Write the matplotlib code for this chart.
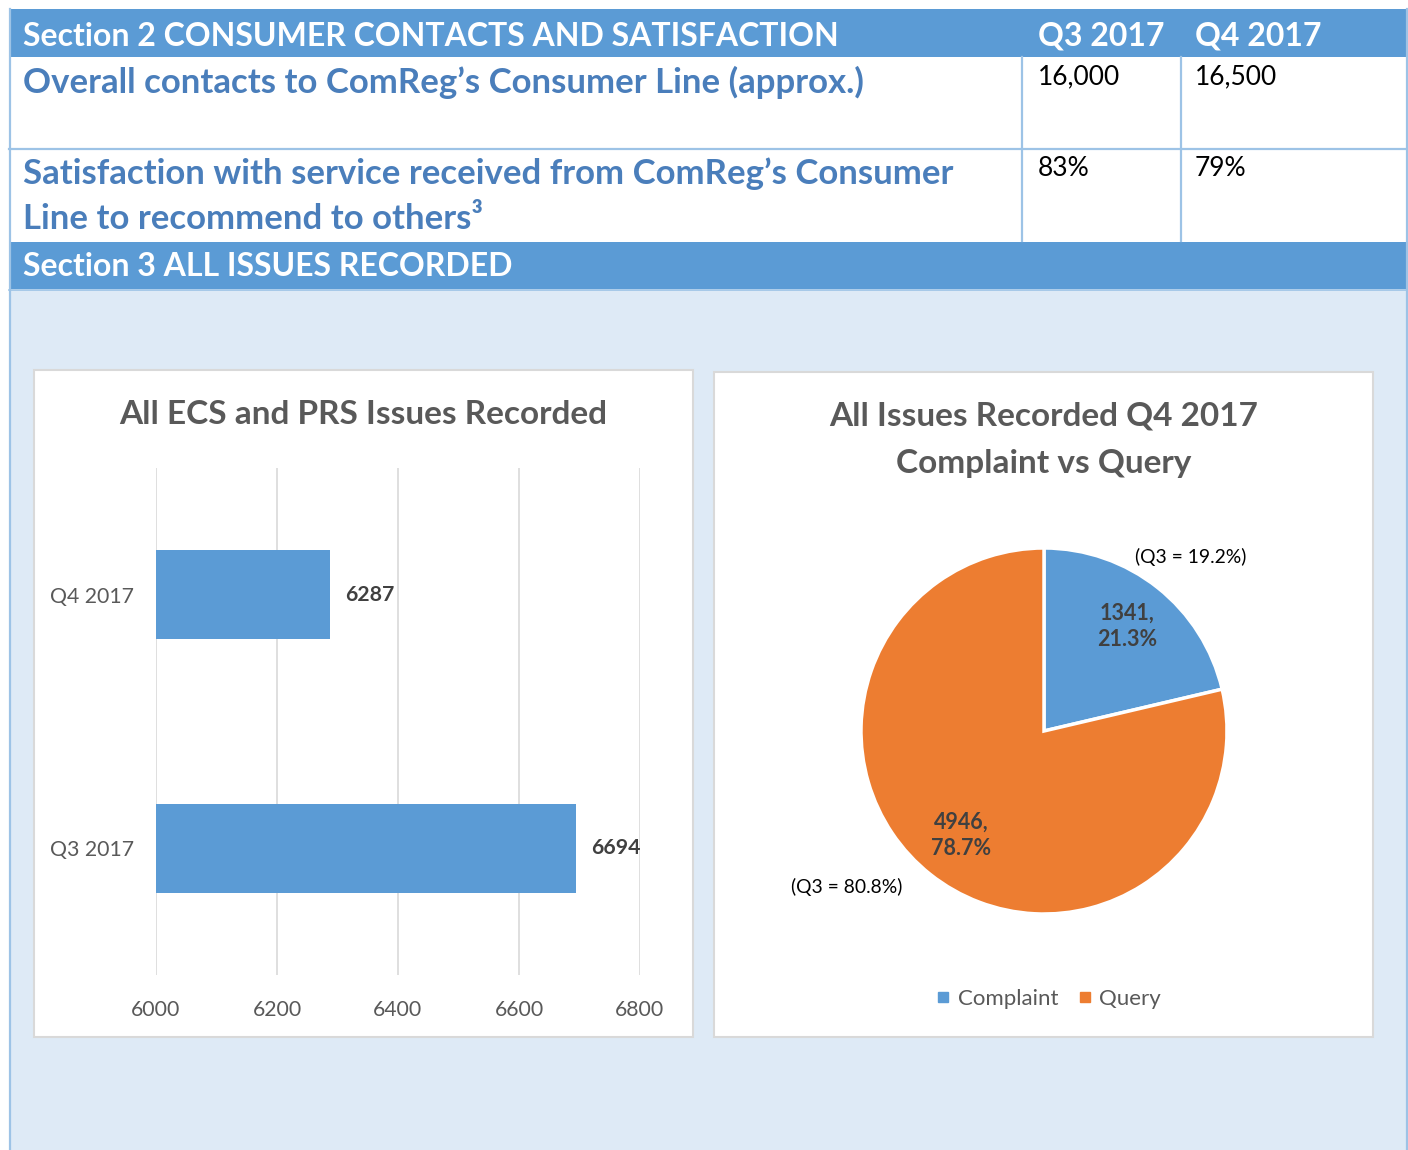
import matplotlib
matplotlib.use("Agg")
import matplotlib.pyplot as plt
from matplotlib.patches import Rectangle
from matplotlib.lines import Line2D
import numpy as np

plt.rcParams["font.family"] = ["Lato", "DejaVu Sans"]

# ----------------------------
# Data
# ----------------------------
period_cols = ["Q3 2017", "Q4 2017"]
contacts = ["16,000", "16,500"]
satisfaction = ["83%", "79%"]

bar_labels = ["Q3 2017", "Q4 2017"]
bar_values = [6694, 6287]
bar_ticks = [6000, 6200, 6400, 6600, 6800]

pie_labels = ["Complaint", "Query"]
pie_values = [1341, 4946]
pie_prev = ["(Q3 = 19.2%)", "(Q3 = 80.8%)"]

# ----------------------------
# Colours
# ----------------------------
HEAD_BLUE = "#5B9BD5"
ROW_BLUE = "#4A7EBB"
LINE_BLUE = "#9DC3E6"
FILL_BLUE = "#DEEAF6"
GREY_TXT = "#595959"
DARK_TXT = "#404040"
ORANGE = "#ED7D31"

W, H = 1408, 1150
fig = plt.figure(figsize=(W / 100, H / 100), dpi=100)

# background canvas in pixel units (y pointing down)
bg = fig.add_axes([0, 0, 1, 1])
bg.set_xlim(0, W)
bg.set_ylim(H, 0)
bg.axis("off")

# table section 2
bg.add_patch(Rectangle((9, 9), 1398, 48, color=HEAD_BLUE, lw=0))
bg.add_patch(Rectangle((9, 242), 1398, 47, color=HEAD_BLUE, lw=0))
bg.add_patch(Rectangle((9, 290), 1398, 860, color=FILL_BLUE, lw=0))
for x in (1022, 1181):
    bg.plot([x, x], [57, 241], color=LINE_BLUE, lw=1.6)
bg.plot([9, 1407], [149, 149], color=LINE_BLUE, lw=1.6)
bg.plot([9, 1407], [289.5, 289.5], color=LINE_BLUE, lw=1.2)
for x in (9.5, 1406.5):
    bg.plot([x, x], [9, H], color=LINE_BLUE, lw=1.6)

HEAD_FS = 23
ROW_FS = 25
NUM_FS = 19

bg.text(23, 36, "Section 2 CONSUMER CONTACTS AND SATISFACTION", color="white",
        fontsize=HEAD_FS, fontweight="bold", va="center")
bg.text(1038, 36, period_cols[0], color="white", fontsize=HEAD_FS, fontweight="bold", va="center")
bg.text(1195, 36, period_cols[1], color="white", fontsize=HEAD_FS, fontweight="bold", va="center")

bg.text(23, 82, "Overall contacts to ComReg\u2019s Consumer Line (approx.)", color=ROW_BLUE,
        fontsize=ROW_FS, fontweight="bold", va="center")
bg.text(1038, 77, contacts[0], color="black", fontsize=NUM_FS, va="center")
bg.text(1195, 77, contacts[1], color="black", fontsize=NUM_FS, va="center")

bg.text(23, 174, "Satisfaction with service received from ComReg\u2019s Consumer", color=ROW_BLUE,
        fontsize=ROW_FS, fontweight="bold", va="center")
bg.text(23, 219, "Line to recommend to others\u00b3", color=ROW_BLUE,
        fontsize=ROW_FS, fontweight="bold", va="center")
bg.text(1038, 169, satisfaction[0], color="black", fontsize=NUM_FS, va="center")
bg.text(1195, 169, satisfaction[1], color="black", fontsize=NUM_FS, va="center")

bg.text(23, 267, "Section 3 ALL ISSUES RECORDED", color="white",
        fontsize=HEAD_FS, fontweight="bold", va="center")

# chart panels
bg.add_patch(Rectangle((34, 370), 659, 667, facecolor="white", edgecolor="#D9D9D9", lw=1.5))
bg.add_patch(Rectangle((714, 372), 659, 665, facecolor="white", edgecolor="#D9D9D9", lw=1.5))

TITLE_FS = 24
bg.text(363, 414, "All ECS and PRS Issues Recorded", color=GREY_TXT, fontsize=TITLE_FS,
        fontweight="bold", ha="center", va="center")
bg.text(1044, 416, "All Issues Recorded Q4 2017", color=GREY_TXT, fontsize=TITLE_FS,
        fontweight="bold", ha="center", va="center")
bg.text(1044, 463, "Complaint vs Query", color=GREY_TXT, fontsize=TITLE_FS,
        fontweight="bold", ha="center", va="center")


def fig_box(x0, y0, x1, y1):
    return [x0 / W, 1 - y1 / H, (x1 - x0) / W, (y1 - y0) / H]


# ----------------------------
# Horizontal bar chart
# ----------------------------
ax = fig.add_axes(fig_box(156, 468, 640, 975))
ax.set_facecolor("none")
ypos = np.arange(len(bar_labels))
base = bar_ticks[0]
ax.barh(ypos, [v - base for v in bar_values], left=base, height=0.35, color=HEAD_BLUE)
ax.set_xlim(bar_ticks[0], bar_ticks[-1])
ax.set_ylim(-0.5, 1.5)
ax.set_xticks(bar_ticks)
ax.set_yticks(ypos)
ax.set_yticklabels(bar_labels)
ax.grid(axis="x", color="#D9D9D9", lw=1.2)
ax.set_axisbelow(True)
for s in ax.spines.values():
    s.set_visible(False)
ax.tick_params(length=0, colors=GREY_TXT, labelsize=15.3)
ax.tick_params(axis="x", pad=18)
ax.tick_params(axis="y", pad=16)
for y, v in zip(ypos, bar_values):
    ax.text(v + 26, y, str(v), color=DARK_TXT, fontsize=15.3, fontweight="bold", va="center")

# ----------------------------
# Pie chart
# ----------------------------
pax = fig.add_axes(fig_box(861, 548, 1227, 914))
pax.pie(pie_values, colors=[HEAD_BLUE, ORANGE], startangle=90, counterclock=False,
        wedgeprops=dict(edgecolor="white", linewidth=2.5))
pax.set_xlim(-1, 1)
pax.set_ylim(-1, 1)
pax.set_aspect("equal")
total = sum(pie_values)
start = 90.0
for v in pie_values:
    frac = v / total
    mid = np.radians(start - frac * 180)
    pax.text(0.73 * np.cos(mid), 0.73 * np.sin(mid), f"{v},\n{frac * 100:.1f}%",
             color=DARK_TXT, fontsize=15.5, fontweight="bold", ha="center", va="center",
             linespacing=1.3)
    start -= frac * 360
pax.text(0.80, 0.95, pie_prev[0], fontsize=13.9, ha="center", va="center", color="black")
pax.text(-1.08, -0.85, pie_prev[1], fontsize=13.9, ha="center", va="center", color="black")

handles = [Line2D([], [], marker="s", ls="", color=c, markersize=7)
           for c in (HEAD_BLUE, ORANGE)]
fig.legend(handles, pie_labels, loc="center", bbox_to_anchor=(1049 / W, 1 - 999 / H),
           ncol=2, frameon=False, fontsize=16, labelcolor=GREY_TXT,
           handlelength=0.6, handletextpad=0.35, columnspacing=0.9)

fig.savefig("out.png", dpi=100)
